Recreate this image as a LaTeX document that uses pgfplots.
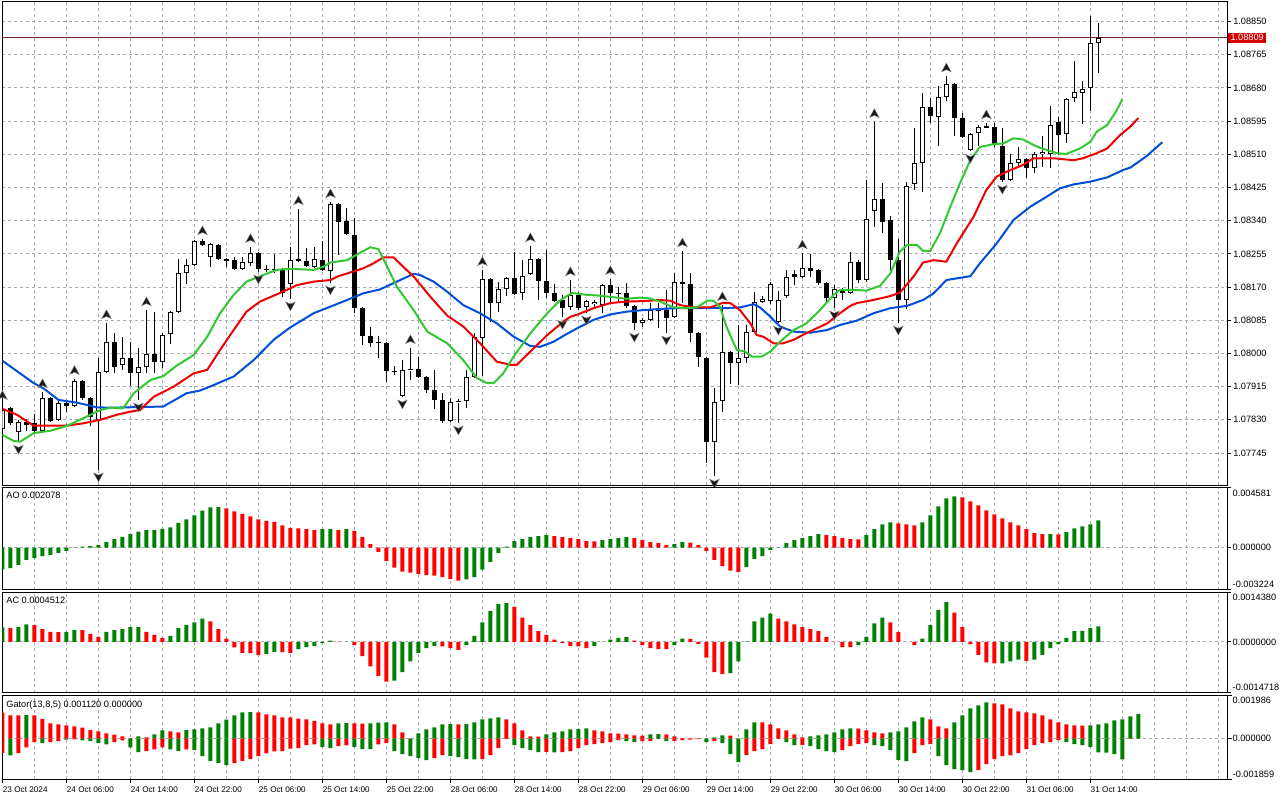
\documentclass[border=0pt]{standalone}
\usepackage{fontspec}
\setmainfont{Liberation Sans}
\usepackage{pgfplots}
\usepackage{pgfplotstable}
\pgfplotsset{compat=1.18}

\definecolor{jaw}{RGB}{0,78,215}
\definecolor{teeth}{RGB}{240,0,0}
\definecolor{lips}{RGB}{50,200,50}
\definecolor{hgreen}{RGB}{0,128,0}
\definecolor{hred}{RGB}{255,0,0}
\definecolor{gridc}{RGB}{165,172,178}
\definecolor{pline}{RGB}{120,35,35}
\definecolor{pbox}{RGB}{210,0,0}
\definecolor{fractc}{RGB}{25,25,25}

\newcommand\lbl{\fontsize{4.6pt}{5pt}\selectfont}
\newcommand\dlbl{\fontsize{4.1pt}{5pt}\selectfont}

\pgfdeclareplotmark{fup}{%
  \pgfpathmoveto{\pgfqpoint{0pt}{6.6pt}}%
  \pgfpathlineto{\pgfqpoint{2.4pt}{2.2pt}}%
  \pgfpathlineto{\pgfqpoint{0pt}{3.3pt}}%
  \pgfpathlineto{\pgfqpoint{-2.4pt}{2.2pt}}%
  \pgfpathclose\pgfusepathqfillstroke}
\pgfdeclareplotmark{fdn}{%
  \pgfpathmoveto{\pgfqpoint{0pt}{-6pt}}%
  \pgfpathlineto{\pgfqpoint{2.4pt}{-1.6pt}}%
  \pgfpathlineto{\pgfqpoint{0pt}{-2.7pt}}%
  \pgfpathlineto{\pgfqpoint{-2.4pt}{-1.6pt}}%
  \pgfpathclose\pgfusepathqfillstroke}

\pgfplotsset{
  only/.style 2 args={restrict expr to domain={\thisrow{#1}}{#2:#2}},
  mt/.style={
    scale only axis, width=612.7pt,
    xmin=0, xmax=153.2,
    axis line style={black, line width=0.5pt},
    xtick={8,16,...,152}, minor xtick={4,12,...,148},
    xticklabels={},
    xmajorgrids, xminorgrids, ymajorgrids,
    major grid style={gridc, line width=0.5pt, dash pattern=on 1.5pt off 1.5pt},
    minor grid style={gridc, line width=0.5pt, dash pattern=on 1.5pt off 1.5pt},
    xtick style={draw=none}, minor tick length=0pt,
    ytick style={draw=black, line width=0.5pt},
    major tick length=1.5pt, tick align=outside,
    ytick pos=right, yticklabel pos=right,
    scaled y ticks=false,
    clip mode=individual,
    yticklabel style={font=\lbl, anchor=west, inner sep=0pt, xshift=1pt},
  },
  candle/.style={draw=none, mark=none, forget plot,
    error bars/y dir=plus, error bars/y explicit, error bars/error mark=none,
    error bars/error bar style={#1}},
}

% i O H L C t(1=bull)
\pgfplotstableread{
i O H L C t
0 1.07807 1.07871 1.07797 1.07855 1
1 1.07861 1.07863 1.07817 1.07822 0
2 1.07799 1.07830 1.07773 1.07825 1
3 1.07825 1.07832 1.07802 1.07817 0
4 1.07822 1.07845 1.07799 1.07802 0
5 1.07802 1.07901 1.07799 1.07886 1
6 1.07886 1.07889 1.07825 1.07827 0
7 1.07830 1.07878 1.07827 1.07873 1
8 1.07873 1.07878 1.07850 1.07866 0
9 1.07866 1.07935 1.07863 1.07930 1
10 1.07930 1.07932 1.07881 1.07886 0
11 1.07886 1.07889 1.07814 1.07837 0
12 1.07830 1.07989 1.07702 1.07953 1
13 1.07953 1.08078 1.07950 1.08029 1
14 1.08029 1.08053 1.07950 1.07965 0
15 1.07971 1.08042 1.07958 1.07989 1
16 1.07989 1.08029 1.07917 1.07950 0
17 1.07950 1.08014 1.07881 1.07965 1
18 1.07965 1.08111 1.07950 1.07999 1
19 1.07999 1.08106 1.07950 1.07978 0
20 1.07978 1.08053 1.07963 1.08047 1
21 1.08050 1.08109 1.08024 1.08106 1
22 1.08106 1.08242 1.08104 1.08206 1
23 1.08206 1.08242 1.08178 1.08227 1
24 1.08227 1.08291 1.08224 1.08288 1
25 1.08288 1.08293 1.08275 1.08278 0
26 1.08247 1.08282 1.08221 1.08280 1
27 1.08278 1.08280 1.08239 1.08242 0
28 1.08242 1.08245 1.08221 1.08237 0
29 1.08239 1.08247 1.08214 1.08216 0
30 1.08216 1.08247 1.08214 1.08234 1
31 1.08232 1.08273 1.08224 1.08257 1
32 1.08257 1.08260 1.08209 1.08216 0
33 1.08216 1.08227 1.08209 1.08214 0
34 1.08214 1.08255 1.08206 1.08216 1
35 1.08214 1.08219 1.08145 1.08155 0
36 1.08178 1.08273 1.08140 1.08239 1
37 1.08242 1.08370 1.08234 1.08237 0
38 1.08237 1.08270 1.08221 1.08224 0
39 1.08221 1.08273 1.08219 1.08242 1
40 1.08239 1.08288 1.08211 1.08214 0
41 1.08211 1.08388 1.08181 1.08383 1
42 1.08383 1.08385 1.08252 1.08337 0
43 1.08339 1.08373 1.08303 1.08306 0
44 1.08303 1.08347 1.08104 1.08117 0
45 1.08117 1.08119 1.08022 1.08045 0
46 1.08045 1.08068 1.08017 1.08027 0
47 1.08029 1.08045 1.07989 1.08027 0
48 1.08027 1.08029 1.07927 1.07955 0
49 1.07955 1.07968 1.07945 1.07953 0
50 1.07891 1.07983 1.07889 1.07958 1
51 1.07958 1.08014 1.07932 1.07960 1
52 1.07960 1.07991 1.07937 1.07940 0
53 1.07940 1.07942 1.07899 1.07907 0
54 1.07907 1.07958 1.07858 1.07881 0
55 1.07881 1.07899 1.07822 1.07827 0
56 1.07827 1.07886 1.07825 1.07876 1
57 1.07876 1.07884 1.07822 1.07878 1
58 1.07878 1.07958 1.07861 1.07940 1
59 1.07940 1.08053 1.07937 1.08042 1
60 1.08040 1.08214 1.07942 1.08191 1
61 1.08191 1.08193 1.08081 1.08129 0
62 1.08129 1.08183 1.08106 1.08165 1
63 1.08165 1.08196 1.08147 1.08193 1
64 1.08193 1.08260 1.08150 1.08152 0
65 1.08155 1.08239 1.08137 1.08198 1
66 1.08204 1.08275 1.08201 1.08242 1
67 1.08242 1.08245 1.08137 1.08186 0
68 1.08186 1.08265 1.08142 1.08155 0
69 1.08155 1.08178 1.08132 1.08134 0
70 1.08137 1.08150 1.08093 1.08117 0
71 1.08119 1.08188 1.08111 1.08150 1
72 1.08150 1.08157 1.08111 1.08117 0
73 1.08119 1.08137 1.08104 1.08134 1
74 1.08127 1.08137 1.08119 1.08132 1
75 1.08124 1.08177 1.08104 1.08175 1
76 1.08175 1.08191 1.08132 1.08155 0
77 1.08155 1.08170 1.08132 1.08152 0
78 1.08155 1.08181 1.08117 1.08122 0
79 1.08122 1.08124 1.08060 1.08078 0
80 1.08078 1.08091 1.08068 1.08086 1
81 1.08086 1.08129 1.08083 1.08111 1
82 1.08111 1.08129 1.08065 1.08109 0
83 1.08111 1.08163 1.08053 1.08091 0
84 1.08093 1.08206 1.08091 1.08183 1
85 1.08183 1.08262 1.08129 1.08178 0
86 1.08178 1.08206 1.08029 1.08053 0
87 1.08053 1.08055 1.07965 1.07991 0
88 1.07989 1.07991 1.07720 1.07773 0
89 1.07773 1.07912 1.07686 1.07876 1
90 1.07878 1.08124 1.07850 1.08004 1
91 1.08004 1.08006 1.07922 1.07976 0
92 1.07976 1.08073 1.07919 1.07989 1
93 1.07989 1.08073 1.07976 1.08055 1
94 1.08055 1.08157 1.08053 1.08132 1
95 1.08132 1.08147 1.08129 1.08140 1
96 1.08134 1.08183 1.08127 1.08178 1
97 1.08081 1.08160 1.08078 1.08137 1
98 1.08147 1.08214 1.08142 1.08196 1
99 1.08204 1.08214 1.08175 1.08196 0
100 1.08196 1.08257 1.08193 1.08219 1
101 1.08219 1.08255 1.08196 1.08211 0
102 1.08214 1.08216 1.08175 1.08181 0
103 1.08181 1.08183 1.08132 1.08142 0
104 1.08142 1.08175 1.08117 1.08165 1
105 1.08163 1.08168 1.08137 1.08155 0
106 1.08155 1.08260 1.08152 1.08234 1
107 1.08234 1.08239 1.08181 1.08188 0
108 1.08188 1.08444 1.08183 1.08344 1
109 1.08365 1.08593 1.08324 1.08396 1
110 1.08396 1.08437 1.08309 1.08337 0
111 1.08342 1.08352 1.08214 1.08239 0
112 1.08239 1.08293 1.08078 1.08137 0
113 1.08137 1.08439 1.08114 1.08429 1
114 1.08434 1.08577 1.08419 1.08488 1
115 1.08488 1.08667 1.08413 1.08631 1
116 1.08631 1.08654 1.08590 1.08608 0
117 1.08605 1.08685 1.08531 1.08657 1
118 1.08657 1.08710 1.08646 1.08690 1
119 1.08690 1.08693 1.08557 1.08603 0
120 1.08603 1.08616 1.08552 1.08554 0
121 1.08521 1.08565 1.08518 1.08562 1
122 1.08565 1.08585 1.08531 1.08580 1
123 1.08582 1.08590 1.08577 1.08577 0
124 1.08580 1.08590 1.08529 1.08536 0
125 1.08531 1.08577 1.08439 1.08444 0
126 1.08444 1.08511 1.08442 1.08488 1
127 1.08488 1.08529 1.08477 1.08498 1
128 1.08498 1.08501 1.08449 1.08475 0
129 1.08475 1.08516 1.08462 1.08511 1
130 1.08511 1.08557 1.08477 1.08516 1
131 1.08511 1.08634 1.08475 1.08585 1
132 1.08593 1.08605 1.08508 1.08559 0
133 1.08562 1.08654 1.08539 1.08652 1
134 1.08654 1.08749 1.08644 1.08669 1
135 1.08667 1.08698 1.08588 1.08677 1
136 1.08680 1.08864 1.08621 1.08795 1
137 1.08795 1.08846 1.08718 1.08809 1
}\candles

\pgfplotstableread{
x y
0 1.07981
2.2 1.07949
3.9 1.07924
5.1 1.07911
7.0 1.07881
9.3 1.07874
11.8 1.07862
13.5 1.07861
20.1 1.07864
23.0 1.07898
24.7 1.07905
26.4 1.07919
28.9 1.07941
31.4 1.07983
33.9 1.08035
36.0 1.08067
38.9 1.08103
41.0 1.08120
43.1 1.08137
45.1 1.08154
47.2 1.08164
49.3 1.08184
51.4 1.08204
52.2 1.08201
53.9 1.08184
55.6 1.08158
57.6 1.08124
59.7 1.08103
61.8 1.08077
63.9 1.08043
66.0 1.08019
67.2 1.08017
68.9 1.08030
70.2 1.08046
71.8 1.08064
73.9 1.08086
76.0 1.08100
78.0 1.08107
80.1 1.08111
82.2 1.08114
84.3 1.08116
86.4 1.08116
88.5 1.08117
90.5 1.08116
92.2 1.08118
93.9 1.08126
94.7 1.08118
96.0 1.08094
97.2 1.08069
98.9 1.08056
101.0 1.08053
103.1 1.08060
104.7 1.08073
106.8 1.08084
108.9 1.08103
111.0 1.08116
113.1 1.08122
115.1 1.08137
116.4 1.08154
118.0 1.08188
121.0 1.08198
122.2 1.08231
124.3 1.08282
126.4 1.08342
128.5 1.08376
130.5 1.08401
132.2 1.08423
133.9 1.08433
136.0 1.08440
138.1 1.08451
140.1 1.08470
141.0 1.08476
143.0 1.08505
145.0 1.08541
}\jawline

\pgfplotstableread{
x y
0 1.07858
1.8 1.07843
3.9 1.07815
6.0 1.07815
8.0 1.07815
10.1 1.07821
12.2 1.07830
14.3 1.07843
16.0 1.07851
17.2 1.07855
18.9 1.07889
21.4 1.07915
23.9 1.07949
25.6 1.07958
27.2 1.08009
28.9 1.08060
30.5 1.08107
32.2 1.08133
34.7 1.08155
36.0 1.08167
36.8 1.08175
38.9 1.08184
41.0 1.08188
42.0 1.08198
43.1 1.08205
45.1 1.08218
46.4 1.08231
47.6 1.08246
48.9 1.08246
50.1 1.08222
51.4 1.08197
53.5 1.08145
55.6 1.08097
57.6 1.08069
59.7 1.08026
61.8 1.07979
63.5 1.07971
64.3 1.07971
66.0 1.08005
68.1 1.08047
69.9 1.08078
71.0 1.08094
71.8 1.08099
73.9 1.08116
76.0 1.08129
78.0 1.08133
80.1 1.08134
82.2 1.08137
83.5 1.08135
84.7 1.08124
86.4 1.08118
88.5 1.08118
90.1 1.08130
91.0 1.08129
92.2 1.08111
93.5 1.08077
94.3 1.08047
95.1 1.08043
96.4 1.08026
97.6 1.08026
98.9 1.08035
100.5 1.08052
103.1 1.08077
104.7 1.08103
106.0 1.08122
106.8 1.08129
108.9 1.08137
111.0 1.08147
112.2 1.08156
113.9 1.08197
115.1 1.08233
116.4 1.08239
118.0 1.08235
119.3 1.08282
121.4 1.08350
123.0 1.08419
124.3 1.08453
125.5 1.08465
127.6 1.08483
128.9 1.08500
131.4 1.08500
133.9 1.08495
135.1 1.08500
136.8 1.08513
138.1 1.08525
139.7 1.08559
141.0 1.08581
142.0 1.08603
}\teethline

\pgfplotstableread{
x y
0 1.07791
1.4 1.07776
2.2 1.07774
3.9 1.07796
6.0 1.07802
8.0 1.07814
10.1 1.07834
12.2 1.07855
13.5 1.07861
15.1 1.07860
16.4 1.07898
18.5 1.07932
20.1 1.07942
21.8 1.07969
23.9 1.07996
25.6 1.08043
27.2 1.08103
28.9 1.08150
30.5 1.08184
32.6 1.08201
34.3 1.08214
36.0 1.08217
38.9 1.08214
40.1 1.08222
41.0 1.08233
43.1 1.08239
44.7 1.08258
46.0 1.08272
47.0 1.08267
48.1 1.08222
49.3 1.08171
51.4 1.08111
53.1 1.08056
55.6 1.08026
57.6 1.07983
59.3 1.07937
60.6 1.07924
61.4 1.07924
62.6 1.07949
63.9 1.07992
66.0 1.08052
68.1 1.08103
69.7 1.08136
71.2 1.08155
73.1 1.08150
74.7 1.08148
76.8 1.08143
78.0 1.08140
79.7 1.08143
80.9 1.08141
82.2 1.08133
83.9 1.08118
85.5 1.08116
86.8 1.08118
88.1 1.08135
88.9 1.08135
89.7 1.08120
90.5 1.08069
91.8 1.08009
92.8 1.08005
93.7 1.07992
94.9 1.07992
96.0 1.08005
97.2 1.08030
98.9 1.08060
100.5 1.08077
102.2 1.08111
103.9 1.08150
104.7 1.08163
106.0 1.08163
108.0 1.08161
109.7 1.08173
111.0 1.08205
112.2 1.08261
113.1 1.08278
114.3 1.08278
115.1 1.08263
116.0 1.08263
117.2 1.08308
118.5 1.08376
119.7 1.08436
121.0 1.08495
122.2 1.08529
123.9 1.08536
125.1 1.08538
126.4 1.08551
127.6 1.08548
128.9 1.08534
129.7 1.08527
131.8 1.08513
133.0 1.08511
134.7 1.08525
136.0 1.08542
136.8 1.08568
138.1 1.08585
139.3 1.08623
140.0 1.08651
}\lipsline

\pgfplotstableread{
i y
0 1.07871
5 1.07901
9 1.07935
13 1.08078
18 1.08111
25 1.08293
31 1.08273
37 1.08370
41 1.08388
51 1.08014
60 1.08214
66 1.08275
71 1.08188
76 1.08191
85 1.08262
90 1.08124
100 1.08257
109 1.08593
118 1.08710
123 1.08590
}\fracup

\pgfplotstableread{
i y
2 1.07773
12 1.07702
17 1.07881
32 1.08209
36 1.08140
41 1.08181
50 1.07889
57 1.07822
70 1.08093
73 1.08104
79 1.08060
83 1.08053
89 1.07686
97 1.08078
104 1.08117
112 1.08078
121 1.08518
125 1.08439
}\fracdn

% AO: i value colour(1 green, 0 red)
\pgfplotstableread{
i v c
0 -0.001672 1
1 -0.001571 1
2 -0.001318 1
3 -0.000938 1
4 -0.000811 1
5 -0.000659 1
6 -0.000557 1
7 -0.000405 1
8 -0.000253 1
9 -0.000025 1
10 0.000076 1
11 0.000101 1
12 0.000177 1
13 0.000405 1
14 0.000634 1
15 0.000786 1
16 0.001014 1
17 0.001216 1
18 0.001318 1
19 0.001330 1
20 0.001419 1
21 0.001546 1
22 0.001875 1
23 0.002154 1
24 0.002458 1
25 0.002813 1
26 0.003066 1
27 0.003079 1
28 0.002990 0
29 0.002762 0
30 0.002559 0
31 0.002382 0
32 0.002154 0
33 0.002027 0
34 0.001951 0
35 0.001698 0
36 0.001495 0
37 0.001470 0
38 0.001394 0
39 0.001318 0
40 0.001394 1
41 0.001406 1
42 0.001318 0
43 0.001394 1
44 0.001267 0
45 0.000786 0
46 0.000253 0
47 -0.000329 0
48 -0.001014 0
49 -0.001546 0
50 -0.001850 0
51 -0.001926 0
52 -0.002027 0
53 -0.002103 0
54 -0.002154 0
55 -0.002255 0
56 -0.002407 0
57 -0.002534 0
58 -0.002433 1
59 -0.002255 1
60 -0.001698 1
61 -0.001090 1
62 -0.000405 1
63 0.000076 1
64 0.000481 1
65 0.000634 1
66 0.000786 1
67 0.000862 1
68 0.000938 1
69 0.000862 0
70 0.000786 0
71 0.000710 0
72 0.000634 0
73 0.000481 0
74 0.000469 0
75 0.000557 1
76 0.000634 1
77 0.000710 1
78 0.000786 1
79 0.000710 0
80 0.000557 0
81 0.000405 0
82 0.000329 0
83 0.000177 0
84 0.000253 1
85 0.000405 1
86 0.000380 0
87 0.000177 0
88 -0.000253 0
89 -0.000938 0
90 -0.001419 0
91 -0.001774 0
92 -0.001875 0
93 -0.001470 1
94 -0.000862 1
95 -0.000659 1
96 -0.000177 1
97 0.000013 1
98 0.000329 1
99 0.000557 1
100 0.000710 1
101 0.000862 1
102 0.001014 1
103 0.000938 0
104 0.000862 0
105 0.000710 0
106 0.000634 0
107 0.000621 0
108 0.000938 1
109 0.001394 1
110 0.001774 1
111 0.001926 1
112 0.001850 0
113 0.001774 0
114 0.001698 0
115 0.001926 1
116 0.002458 1
117 0.003142 1
118 0.003750 1
119 0.003902 1
120 0.003826 0
121 0.003522 0
122 0.003218 0
123 0.002838 0
124 0.002534 0
125 0.002230 0
126 0.001926 0
127 0.001698 0
128 0.001394 0
129 0.001090 0
130 0.001014 0
131 0.001026 1
132 0.001010 0
133 0.001166 1
134 0.001470 1
135 0.001622 1
136 0.001774 1
137 0.002078 1
}\ao

\pgfplotstableread{
i v c
0 0.000419 1
1 0.000400 0
2 0.000428 1
3 0.000512 1
4 0.000484 0
5 0.000372 0
6 0.000288 0
7 0.000286 0
8 0.000293 1
9 0.000344 1
10 0.000339 0
11 0.000233 0
12 0.000149 0
13 0.000288 1
14 0.000344 1
15 0.000372 1
16 0.000428 1
17 0.000432 1
18 0.000288 0
19 0.000205 0
20 0.000121 0
21 0.000177 1
22 0.000400 1
23 0.000484 1
24 0.000567 1
25 0.000679 1
26 0.000595 0
27 0.000372 0
28 0.000093 0
29 -0.000158 0
30 -0.000316 0
31 -0.000321 0
32 -0.000381 0
33 -0.000344 1
34 -0.000288 1
35 -0.000293 0
36 -0.000316 0
37 -0.000205 1
38 -0.000149 1
39 -0.000121 1
40 -0.000037 1
41 0.000037 1
42 -0.000009 0
43 0.000005 1
44 -0.000093 0
45 -0.000409 0
46 -0.000707 0
47 -0.000986 0
48 -0.001153 0
49 -0.001125 1
50 -0.000874 1
51 -0.000567 1
52 -0.000316 1
53 -0.000177 1
54 -0.000121 1
55 -0.000126 0
56 -0.000177 0
57 -0.000233 0
58 -0.000093 1
59 0.000177 1
60 0.000567 1
61 0.000902 1
62 0.001097 1
63 0.001125 1
64 0.001014 0
65 0.000707 0
66 0.000484 0
67 0.000316 0
68 0.000205 0
69 0.000065 0
70 -0.000037 0
71 -0.000121 0
72 -0.000126 0
73 -0.000177 0
74 -0.000121 1
75 -0.000009 1
76 0.000065 1
77 0.000121 1
78 0.000149 1
79 0.000037 0
80 -0.000093 0
81 -0.000177 0
82 -0.000205 0
83 -0.000209 0
84 -0.000093 1
85 0.000093 1
86 0.000088 0
87 -0.000056 0
88 -0.000456 0
89 -0.000874 0
90 -0.000930 0
91 -0.000902 1
92 -0.000567 1
93 0.000009 1
94 0.000595 1
95 0.000707 1
96 0.000818 1
97 0.000679 0
98 0.000595 0
99 0.000512 0
100 0.000428 0
101 0.000372 0
102 0.000316 0
103 0.000149 0
104 -0.000005 0
105 -0.000149 0
106 -0.000153 0
107 -0.000093 1
108 0.000149 1
109 0.000539 1
110 0.000707 1
111 0.000567 0
112 0.000288 0
113 -0.000009 0
114 -0.000093 0
115 0.000093 1
116 0.000484 1
117 0.000930 1
118 0.001153 1
119 0.000846 0
120 0.000428 0
121 -0.000065 0
122 -0.000372 0
123 -0.000595 0
124 -0.000623 0
125 -0.000618 1
126 -0.000567 1
127 -0.000512 1
128 -0.000549 0
129 -0.000512 1
130 -0.000372 1
131 -0.000177 1
132 -0.000065 1
133 0.000121 1
134 0.000316 1
135 0.000321 1
136 0.000400 1
137 0.000451 1
}\ac

% Gator: i upper colour-upper lower colour-lower
\pgfplotstableread{
i up cu lo cl
0 0.001193 0 -0.000643 0
1 0.001071 0 -0.000765 1
2 0.001071 0 -0.000658 0
3 0.001075 1 -0.000398 0
4 0.001065 0 -0.000153 0
5 0.000903 0 -0.000199 1
6 0.000704 0 -0.000153 0
7 0.000658 0 -0.000107 0
8 0.000612 0 -0.000046 1
9 0.000566 0 -0.000031 0
10 0.000505 0 -0.000077 1
11 0.000398 0 -0.000107 1
12 0.000337 0 -0.000199 1
13 0.000245 0 -0.000260 1
14 0.000184 0 -0.000153 0
15 0.000107 0 -0.000077 0
16 0.000031 0 -0.000398 1
17 0.000107 1 -0.000612 1
18 0.000061 0 -0.000566 0
19 0.000199 1 -0.000490 0
20 0.000383 1 -0.000398 0
21 0.000337 0 -0.000490 1
22 0.000291 0 -0.000566 1
23 0.000398 1 -0.000490 0
24 0.000428 1 -0.000520 1
25 0.000474 1 -0.000796 1
26 0.000520 1 -0.001010 1
27 0.000704 1 -0.001102 1
28 0.000872 1 -0.001209 1
29 0.001071 1 -0.001117 0
30 0.001209 1 -0.001010 0
31 0.001216 1 -0.000918 0
32 0.001205 0 -0.000796 0
33 0.001117 0 -0.000673 0
34 0.001071 0 -0.000581 0
35 0.000979 0 -0.000574 0
36 0.000975 0 -0.000459 0
37 0.000918 0 -0.000428 0
38 0.000887 0 -0.000291 0
39 0.000811 0 -0.000260 0
40 0.000704 0 -0.000383 1
41 0.000658 0 -0.000428 1
42 0.000704 1 -0.000337 0
43 0.000711 1 -0.000306 0
44 0.000700 0 -0.000383 1
45 0.000689 0 -0.000474 1
46 0.000704 1 -0.000482 1
47 0.000734 1 -0.000260 0
48 0.000750 1 -0.000199 0
49 0.000658 0 -0.000566 1
50 0.000291 0 -0.000704 1
51 0.000015 0 -0.000796 1
52 0.000245 1 -0.000887 1
53 0.000428 1 -0.000979 1
54 0.000520 1 -0.000887 0
55 0.000658 1 -0.000750 0
56 0.000666 1 -0.000796 1
57 0.000658 0 -0.000842 1
58 0.000666 1 -0.000933 1
59 0.000750 1 -0.000941 1
60 0.000887 1 -0.000930 0
61 0.000933 1 -0.000750 0
62 0.000979 1 -0.000428 0
63 0.000887 0 -0.000015 0
64 0.000704 0 -0.000291 1
65 0.000383 0 -0.000428 1
66 0.000107 0 -0.000520 1
67 0.000099 0 -0.000612 1
68 0.000199 1 -0.000604 0
69 0.000291 1 -0.000620 1
70 0.000337 1 -0.000612 0
71 0.000428 1 -0.000566 0
72 0.000436 1 -0.000428 0
73 0.000474 1 -0.000291 0
74 0.000383 0 -0.000245 0
75 0.000337 0 -0.000199 0
76 0.000245 0 -0.000153 0
77 0.000237 0 -0.000061 0
78 0.000199 0 -0.000107 1
79 0.000153 0 -0.000153 1
80 0.000145 0 -0.000107 0
81 0.000199 1 -0.000099 0
82 0.000207 1 -0.000015 1
83 0.000199 0 -0.000107 1
84 0.000107 0 -0.000099 0
85 0.000031 0 -0.000061 0
86 0.000015 0 -0.000046 0
87 0.000012 0 -0.000015 0
88 0.000003 0 -0.000153 1
89 0.000061 1 -0.000107 0
90 0.000153 1 -0.000199 1
91 0.000145 0 -0.000704 1
92 0.000005 0 -0.001071 1
93 0.000428 1 -0.000750 0
94 0.000750 1 -0.000566 0
95 0.000742 0 -0.000474 0
96 0.000658 0 -0.000245 0
97 0.000474 0 -0.000015 0
98 0.000383 0 -0.000153 1
99 0.000199 0 -0.000291 1
100 0.000061 0 -0.000283 0
101 0.000107 1 -0.000337 1
102 0.000153 1 -0.000474 1
103 0.000199 1 -0.000566 1
104 0.000291 1 -0.000612 1
105 0.000428 1 -0.000520 0
106 0.000474 1 -0.000337 0
107 0.000467 0 -0.000245 0
108 0.000383 0 -0.000199 0
109 0.000291 0 -0.000291 1
110 0.000245 0 -0.000337 1
111 0.000291 1 -0.000520 1
112 0.000337 1 -0.000979 1
113 0.000520 1 -0.001025 1
114 0.000796 1 -0.000658 0
115 0.000979 1 -0.000291 0
116 0.000887 0 -0.000245 0
117 0.000566 0 -0.000796 1
118 0.000474 0 -0.001209 1
119 0.000750 1 -0.001392 1
120 0.001071 1 -0.001438 1
121 0.001392 1 -0.001530 1
122 0.001530 1 -0.001438 0
123 0.001668 1 -0.001163 0
124 0.001622 0 -0.000933 0
125 0.001576 0 -0.000796 0
126 0.001392 0 -0.000765 0
127 0.001255 0 -0.000658 0
128 0.001209 0 -0.000474 0
129 0.001163 0 -0.000291 0
130 0.001071 0 -0.000199 0
131 0.000887 0 -0.000153 0
132 0.000750 0 -0.000061 0
133 0.000658 0 -0.000153 1
134 0.000612 0 -0.000245 1
135 0.000604 0 -0.000291 1
136 0.000612 1 -0.000383 1
137 0.000658 1 -0.000627 1
138 0.000704 1 -0.000635 1
139 0.000842 1 -0.000704 1
140 0.000887 1 -0.000949 1
141 0.001025 1 -0.000015 0
142 0.001120 1 0.000000 0
}\gator

\begin{document}
\begin{tikzpicture}
\useasboundingbox (0,0) rectangle (640pt,-400pt);

% ---------------- main price panel ----------------
\begin{axis}[mt, at={(1.25pt,-0.85pt)}, anchor=north west, height=241.65pt,
  ymin=1.07663, ymax=1.08901,
  ytick={1.07745,1.07830,1.07915,1.08000,1.08085,1.08170,1.08255,1.08340,1.08425,1.08510,1.08595,1.08680,1.08765,1.08850},
  yticklabels={1.07745,1.07830,1.07915,1.08000,1.08085,1.08170,1.08255,1.08340,1.08425,1.08510,1.08595,1.08680,1.08765,1.08850},
]
\addplot[pline, line width=0.5pt, forget plot] coordinates {(0,1.08809) (153.2,1.08809)};
% wicks
\addplot[candle={draw=black, line width=0.5pt}]
  table[x=i, y=L, y error plus expr=\thisrow{H}-\thisrow{L}] {\candles};
% bearish bodies
\addplot[only={t}{0}, candle={draw=black, line width=2.5pt}]
  table[x=i, y=C, y error plus expr=\thisrow{O}-\thisrow{C}] {\candles};
% bullish bodies
\addplot[only={t}{1}, candle={draw=black, line width=2.5pt}]
  table[x=i, y=O, y error plus expr=\thisrow{C}-\thisrow{O}] {\candles};
\addplot[only={t}{1}, candle={draw=white, line width=1.5pt, shorten <=0.5pt, shorten >=0.5pt}]
  table[x=i, y=O, y error plus expr=\thisrow{C}-\thisrow{O}] {\candles};
% alligator
\addplot[jaw, line width=1pt, mark=none] table[x=x,y=y] {\jawline};
\addplot[teeth, line width=1pt, mark=none] table[x=x,y=y] {\teethline};
\addplot[lips, line width=1pt, mark=none] table[x=x,y=y] {\lipsline};
% fractals
\addplot[only marks, mark=fup, mark options={fill=fractc, draw=gray, line width=0.2pt}] table[x=i,y=y] {\fracup};
\addplot[only marks, mark=fdn, mark options={fill=fractc, draw=gray, line width=0.2pt}] table[x=i,y=y] {\fracdn};
\node[fill=pbox, text=white, font=\lbl, anchor=west, inner xsep=1.1pt, inner ysep=0.9pt] at (axis cs:153.2,1.08809) {1.08809};
\end{axis}

% ---------------- AO ----------------
\begin{axis}[mt, at={(1.25pt,-243.75pt)}, anchor=north west, height=51.1pt,
  ymin=-0.003224, ymax=0.004581, ytick={-0.003224,0,0.004581}, yticklabels={},
  ybar, bar width=2pt, bar shift=0pt]
\addplot[fill=hgreen, draw=none, only={c}{1}] table[x=i,y=v] {\ao};
\addplot[fill=hred, draw=none, only={c}{0}] table[x=i,y=v] {\ao};
\node[anchor=north west, font=\lbl, inner sep=0pt] at (rel axis cs:0,1) [xshift=1.75pt, yshift=-2.3pt] {AO 0.002078};
\node[anchor=north west, font=\lbl, inner sep=0pt] at (rel axis cs:1,1) [xshift=2.2pt, yshift=-0.9pt] {0.004581};
\node[anchor=west, font=\lbl, inner sep=0pt] at (axis cs:153.2,0) [xshift=2.2pt] {0.000000};
\node[anchor=south west, font=\lbl, inner sep=0pt] at (rel axis cs:1,0) [xshift=2.2pt, yshift=0.9pt] {-0.003224};
\end{axis}

% ---------------- AC ----------------
\begin{axis}[mt, at={(1.25pt,-296.15pt)}, anchor=north west, height=50.2pt,
  ymin=-0.0014718, ymax=0.0014380, ytick={-0.0014718,0,0.0014380}, yticklabels={},
  ybar, bar width=2pt, bar shift=0pt]
\addplot[fill=hgreen, draw=none, only={c}{1}] table[x=i,y=v] {\ac};
\addplot[fill=hred, draw=none, only={c}{0}] table[x=i,y=v] {\ac};
\node[anchor=north west, font=\lbl, inner sep=0pt] at (rel axis cs:0,1) [xshift=1.75pt, yshift=-2.4pt] {AC 0.0004512};
\node[anchor=north west, font=\lbl, inner sep=0pt] at (rel axis cs:1,1) [xshift=2.2pt, yshift=-0.9pt] {0.0014380};
\node[anchor=west, font=\lbl, inner sep=0pt] at (axis cs:153.2,0) [xshift=2.2pt] {0.0000000};
\node[anchor=south west, font=\lbl, inner sep=0pt] at (rel axis cs:1,0) [xshift=2.2pt, yshift=0.9pt] {-0.0014718};
\end{axis}

% ---------------- Gator ----------------
\begin{axis}[mt, at={(1.25pt,-347.65pt)}, anchor=north west, height=42pt,
  ymin=-0.001859, ymax=0.001986, ytick={-0.001859,0,0.001986}, yticklabels={},
  ybar, bar width=2pt, bar shift=0pt,
  xtick={0,8,...,136},
  xticklabels={23 Oct 2024,24 Oct 06:00,24 Oct 14:00,24 Oct 22:00,25 Oct 06:00,25 Oct 14:00,25 Oct 22:00,28 Oct 06:00,28 Oct 14:00,28 Oct 22:00,29 Oct 06:00,29 Oct 14:00,29 Oct 22:00,30 Oct 06:00,30 Oct 14:00,30 Oct 22:00,31 Oct 06:00,31 Oct 14:00},
  extra x ticks={144,152}, extra x tick labels={},
  extra x tick style={major tick length=0pt},
  xtick style={draw=black, line width=0.5pt}, xtick pos=bottom, major tick length=2pt,
  xticklabel style={font=\dlbl, anchor=north west, inner sep=0pt, yshift=-1.6pt},
]
\addplot[fill=hgreen, draw=none, only={cu}{1}] table[x=i,y=up] {\gator};
\addplot[fill=hred, draw=none, only={cu}{0}] table[x=i,y=up] {\gator};
\addplot[fill=hgreen, draw=none, only={cl}{1}] table[x=i,y=lo] {\gator};
\addplot[fill=hred, draw=none, only={cl}{0}] table[x=i,y=lo] {\gator};
\node[anchor=north west, font=\lbl, inner sep=0pt] at (rel axis cs:0,1) [xshift=1.75pt, yshift=-2.4pt] {Gator(13,8,5) 0.001120 0.000000};
\node[anchor=north west, font=\lbl, inner sep=0pt] at (rel axis cs:1,1) [xshift=2.2pt, yshift=-0.9pt] {0.001986};
\node[anchor=west, font=\lbl, inner sep=0pt] at (axis cs:153.2,0) [xshift=2.2pt] {0.000000};
\node[anchor=south west, font=\lbl, inner sep=0pt] at (rel axis cs:1,0) [xshift=2.2pt, yshift=0.9pt] {-0.001859};
\end{axis}
\end{tikzpicture}
\end{document}
